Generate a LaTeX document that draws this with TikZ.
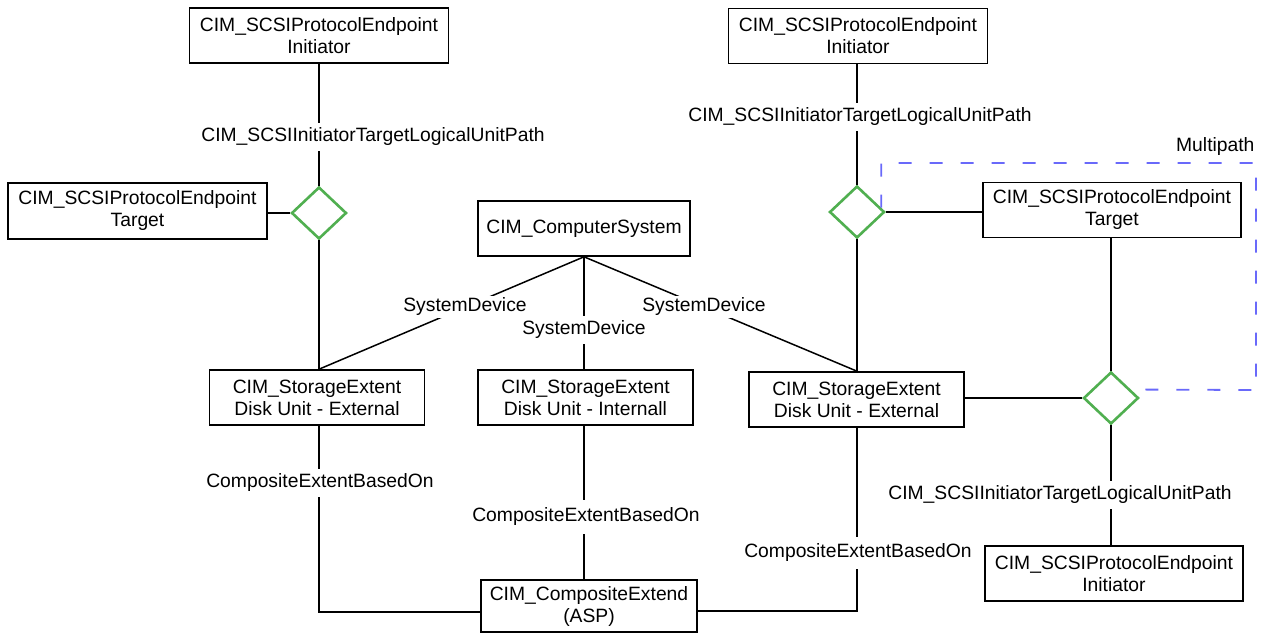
\documentclass[tikz,border=0pt]{standalone}
\usepackage{fontspec}
\setmainfont{Liberation Sans}
\usetikzlibrary{shapes.geometric,calc}
\definecolor{dgreen}{RGB}{80,175,80}
\definecolor{mblue}{RGB}{105,105,250}
\begin{document}
\begin{tikzpicture}[x=1pt,y=-1pt,
  every node/.style={font=\fontsize{19.3}{22}\selectfont},
  box/.style={draw, line width=1.6pt, align=center, inner sep=0pt},
  dia/.style={diamond, draw=dgreen, line width=2.6pt, minimum width=55pt, minimum height=52pt, inner sep=0pt},
  conn/.style={line width=1.5pt},
  lab/.style={fill=white, inner sep=5pt},
  mp/.style={draw=mblue, line width=1.8pt, dash pattern=on 13pt off 18pt}]
\useasboundingbox[fill=white] (0,0) rectangle (1267,635);

% boxes
\node[box, minimum width=259pt, minimum height=55pt] (init1) at (319,35.5) {CIM\_SCSIProtocolEndpoint\\Initiator};
\node[box, minimum width=259pt, minimum height=56pt] (tgt1) at (137.5,211) {CIM\_SCSIProtocolEndpoint\\Target};
\node[box, minimum width=212pt, minimum height=55pt] (cs) at (584,228.5) {CIM\_ComputerSystem};
\node[box, minimum width=259pt, minimum height=55pt] (init2) at (858,36) {CIM\_SCSIProtocolEndpoint\\Initiator};
\node[box, minimum width=258pt, minimum height=55pt] (tgt2) at (1112,210) {CIM\_SCSIProtocolEndpoint\\Target};
\node[box, minimum width=215pt, minimum height=55pt] (se1) at (317,397.5) {CIM\_StorageExtent\\Disk Unit - External};
\node[box, minimum width=215pt, minimum height=55pt] (se2) at (585.5,397.5) {CIM\_StorageExtent\\Disk Unit - Internall};
\node[box, minimum width=215pt, minimum height=55pt] (se3) at (856.5,399.5) {CIM\_StorageExtent\\Disk Unit - External};
\node[box, minimum width=216pt, minimum height=52pt] (asp) at (589,606) {CIM\_CompositeExtend\\(ASP)};
\node[box, minimum width=258pt, minimum height=55pt] (init3) at (1114,573.5) {CIM\_SCSIProtocolEndpoint\\Initiator};

% diamonds
\node[dia] (d1) at (319,213) {};
\node[dia] (d2) at (857,212) {};
\node[dia] (d3) at (1111,398) {};

% connectors
\draw[conn] (init1.south) -- (d1.north);
\draw[conn] (d1.west) -- (d1.west -| tgt1.east);
\draw[conn] (d1.south) -- (d1.south |- se1.north);
\draw[conn] (cs.south) -- (d1.south |- se1.north);
\draw[conn] (cs.south) -- (cs.south |- se2.north);
\draw[conn] (cs.south) -- (d2.south |- se3.north);
\draw[conn] (d2.north |- init2.south) -- (d2.north);
\draw[conn] (d2.east) -- (d2.east -| tgt2.west);
\draw[conn] (d2.south) -- (d2.south |- se3.north);
\draw[conn] (d3.north |- tgt2.south) -- (d3.north);
\draw[conn] (d3.west) -- (d3.west -| se3.east);
\draw[conn] (d3.south) -- (d3.south |- init3.north);
\draw[conn] (d1.south |- se1.south) |- ([yshift=-6pt]asp.west);
\draw[conn] (cs.south |- se2.south) -- (cs.south |- asp.north);
\draw[conn] (d2.south |- se3.south) |- ([yshift=-5pt]asp.east);

% multipath dashed outline
\coordinate (m1) at ($(d2.east)!0.16!(d2.north)$);
\coordinate (m2) at ($(d3.east)!0.31!(d3.north)$);
\draw[mp] (m1) -- (m1 |- 0,163) -- (1256,163) -- (1256,390) -- (m2);
\node[anchor=east] (mpl) at (1258,147) {Multipath};

% labels
\node[lab] (l1) at (373,137) {CIM\_SCSIInitiatorTargetLogicalUnitPath};
\node[lab] (l2) at (860,117) {CIM\_SCSIInitiatorTargetLogicalUnitPath};
\node[lab] (l3) at (1060,495) {CIM\_SCSIInitiatorTargetLogicalUnitPath};
\node[lab, inner sep=2pt] (sd1) at (465,307) {SystemDevice};
\node[lab] (sd2) at (584,330) {SystemDevice};
\node[lab, inner sep=2pt] (sd3) at (704,307) {SystemDevice};
\node[lab] (ce1) at (320,483) {CompositeExtentBasedOn};
\node[lab, inner sep=8pt] (ce2) at (586,517) {CompositeExtentBasedOn};
\node[lab, inner sep=7pt] (ce3) at (858,553) {CompositeExtentBasedOn};
\end{tikzpicture}
\end{document}
